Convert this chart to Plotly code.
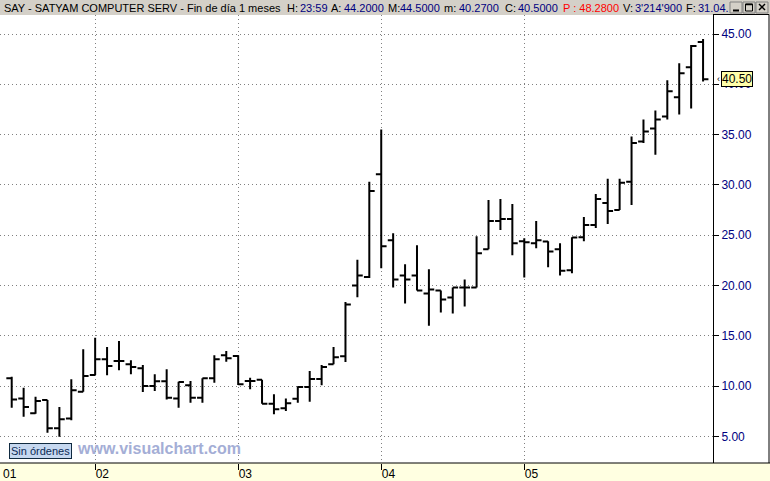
import plotly.graph_objects as go

# ---------------- data ----------------
months = [
    "2001-06", "2001-07", "2001-08", "2001-09", "2001-10", "2001-11", "2001-12",
    "2002-01", "2002-02", "2002-03", "2002-04", "2002-05", "2002-06",
    "2002-07", "2002-08", "2002-09", "2002-10", "2002-11", "2002-12",
    "2003-01", "2003-02", "2003-03", "2003-04", "2003-05", "2003-06",
    "2003-07", "2003-08", "2003-09", "2003-10", "2003-11", "2003-12",
    "2004-01", "2004-02", "2004-03", "2004-04", "2004-05", "2004-06",
    "2004-07", "2004-08", "2004-09", "2004-10", "2004-11", "2004-12",
    "2005-01", "2005-02", "2005-03", "2005-04", "2005-05", "2005-06",
    "2005-07", "2005-08", "2005-09", "2005-10", "2005-11", "2005-12",
    "2006-01", "2006-02", "2006-03", "2006-04",
]
opens = [
    10.77, 8.77, 7.28, 8.60, 5.79, 6.78, 9.44,
    11.09, 12.66, 12.49, 12.16, 11.76, 10.00,
    10.47, 8.77, 10.07, 8.84, 10.77, 13.05,
    12.99, 10.50, 10.63, 8.24, 7.78, 8.74,
    9.90, 10.70, 12.16, 12.96, 20.00, 20.85,
    31.05, 24.50, 21.00, 21.00, 19.20, 19.50,
    18.80, 19.80, 19.80, 23.60, 26.40, 26.60,
    24.40, 24.20, 24.36, 23.60, 21.50, 24.80,
    26.00, 28.20, 27.50, 30.30, 34.30, 35.60,
    36.80, 38.70, 41.70, 44.20,
]
highs = [
    10.93, 9.83, 8.94, 8.61, 7.91, 10.67, 13.65,
    14.81, 13.88, 14.48, 12.56, 12.09, 11.16,
    11.66, 10.43, 10.50, 10.77, 13.05, 13.48,
    13.05, 10.83, 10.63, 9.17, 8.77, 9.97,
    11.49, 12.09, 13.88, 18.35, 22.56, 30.30,
    35.50, 25.20, 22.10, 24.00, 21.60, 19.50,
    19.80, 20.60, 24.90, 28.50, 28.60, 28.10,
    24.70, 26.40, 24.40, 24.20, 24.80, 26.80,
    29.10, 30.60, 30.60, 34.80, 36.50, 37.40,
    40.40, 42.10, 43.90, 44.50,
]
lows = [
    7.84, 6.95, 7.25, 5.35, 4.96, 6.59, 9.44,
    11.09, 11.06, 11.56, 11.16, 9.40, 9.50,
    8.67, 7.84, 8.34, 8.34, 10.33, 12.42,
    10.10, 9.67, 8.24, 7.18, 7.51, 8.34,
    8.44, 10.07, 12.16, 12.39, 18.83, 20.75,
    21.70, 19.80, 18.20, 19.50, 16.00, 17.30,
    17.20, 17.90, 19.80, 23.60, 25.50, 23.00,
    20.80, 23.70, 21.80, 21.00, 21.20, 24.40,
    25.70, 26.10, 27.50, 28.00, 34.15, 33.00,
    36.50, 37.00, 37.60, 40.27,
]
closes = [
    8.67, 7.91, 8.51, 5.79, 6.69, 9.57, 11.00,
    12.66, 11.99, 12.49, 11.89, 10.00, 10.47,
    8.84, 10.40, 8.84, 10.77, 12.66, 12.76,
    10.17, 10.50, 8.24, 7.68, 8.28, 9.90,
    10.70, 11.89, 12.86, 18.10, 21.00, 29.40,
    23.90, 20.60, 20.60, 19.50, 19.60, 18.60,
    19.80, 19.80, 23.20, 26.40, 26.60, 24.20,
    24.30, 24.50, 23.37, 21.45, 24.76, 26.00,
    28.60, 27.40, 30.20, 34.15, 35.30, 36.50,
    39.30, 41.10, 43.80, 40.50,
]
y_tick_values = [5, 10, 15, 20, 25, 30, 35, 40, 45]
y_tick_labels = ["5.00", "10.00", "15.00", "20.00", "25.00", "30.00", "35.00", "40.00", "45.00"]
x_tick_months = ["2002-01", "2003-01", "2004-01", "2005-01"]
x_tick_labels = ["02", "03", "04", "05"]
first_year_label = "01"
last_close_label = "40.50"
last_close_value = 40.50

header_parts = [
    ("SAY - SATYAM COMPUTER SERV - Fin de día 1 meses", "black"),
    ("H:", "black"), ("23:59", "navy"),
    ("A:", "black"), ("44.2000", "navy"),
    ("M:", "black"), ("44.5000", "navy"),
    ("m:", "black"), ("40.2700", "navy"),
    ("C:", "black"), ("40.5000", "navy"),
    ("P : 48.2800", "red"),
    ("V:", "black"), ("3'214'900", "navy"),
    ("F:", "black"), ("31.04.", "navy"),
]
header_x = [2, 285, 298, 329, 342, 386, 398, 442, 457, 503, 516, 561, 621, 633, 684, 696]

# ---------------- layout geometry ----------------
W, H = 770, 481
ML, MR, MT, MB = 0, 57, 15, 18
PW, PH = W - ML - MR, H - MT - MB          # 713 x 448

def px(x):   # pixel x -> paper
    return (x - ML) / PW

def py(y):   # pixel y -> paper
    return (H - MB - y) / PH

x = list(range(len(months)))
tickvals = [months.index(m) for m in x_tick_months]

FONT = "Liberation Sans, Arial, sans-serif"
NAVY = "#000080"
colmap = {"black": "#000000", "navy": NAVY, "red": "#FF0000"}

fig = go.Figure()
fig.add_trace(go.Ohlc(
    x=x, open=opens, high=highs, low=lows, close=closes,
    increasing=dict(line=dict(color="black", width=2)),
    decreasing=dict(line=dict(color="black", width=2)),
    tickwidth=0.45, hoverinfo="skip", showlegend=False,
))

shapes = [
    dict(type="rect", xref="paper", yref="paper", x0=px(0), x1=px(W), y0=py(15), y1=py(0),
         fillcolor="#D4D0C8", line=dict(width=0), layer="below"),
    dict(type="rect", xref="paper", yref="paper", x0=px(0), x1=px(W), y0=py(H), y1=py(463),
         fillcolor="#FFFFE1", line=dict(width=0), layer="below"),
    dict(type="line", xref="paper", yref="paper", x0=px(0), x1=px(W), y0=0, y1=0,
         line=dict(color="black", width=1)),
    dict(type="line", xref="paper", yref="paper", x0=px(713), x1=px(769), y0=py(14.5), y1=py(14.5),
         line=dict(color="black", width=1)),
    dict(type="line", xref="paper", yref="paper", x0=px(769), x1=px(769), y0=py(14.5), y1=0,
         line=dict(color="black", width=1)),
]
for bx0, bx1 in [(730, 742), (743, 755), (756, 768)]:
    shapes.append(dict(type="rect", xref="paper", yref="paper", x0=px(bx0), x1=px(bx1),
                       y0=py(13), y1=py(2), fillcolor="#D4D0C8",
                       line=dict(color="#808080", width=1)))
shapes += [
    dict(type="line", xref="paper", yref="paper", x0=px(733), x1=px(739), y0=py(10.5), y1=py(10.5),
         line=dict(color="black", width=2)),
    dict(type="rect", xref="paper", yref="paper", x0=px(745.5), x1=px(752.5), y0=py(11), y1=py(4),
         line=dict(color="black", width=1)),
    dict(type="line", xref="paper", yref="paper", x0=px(745.5), x1=px(752.5), y0=py(4.5), y1=py(4.5),
         line=dict(color="black", width=1.5)),
    dict(type="line", xref="paper", yref="paper", x0=px(759), x1=px(765), y0=py(4), y1=py(10),
         line=dict(color="black", width=1.5)),
    dict(type="line", xref="paper", yref="paper", x0=px(765), x1=px(759), y0=py(4), y1=py(10),
         line=dict(color="black", width=1.5)),
]

annotations = []
for (txt, c), hx in zip(header_parts, header_x):
    annotations.append(dict(text=txt, xref="paper", yref="paper", x=px(hx), y=py(7.5),
                            xanchor="left", yanchor="middle", showarrow=False,
                            font=dict(family=FONT, size=11, color=colmap[c])))
annotations += [
    dict(text=first_year_label, xref="paper", yref="paper", x=px(1), y=py(474),
         xanchor="left", yanchor="middle", showarrow=False,
         font=dict(family=FONT, size=12, color="black")),
    dict(text="<b>www.visualchart.com</b>", xref="paper", yref="paper", x=px(75), y=py(448),
         xanchor="left", yanchor="middle", showarrow=False,
         font=dict(family=FONT, size=16, color="#A4AED6")),
    dict(text="Sin órdenes", xref="paper", yref="paper", x=px(9), y=py(450.5),
         xanchor="left", yanchor="middle", showarrow=False,
         font=dict(family=FONT, size=11, color="#0A2A55"),
         bgcolor="#C6D8F0", bordercolor="#102A40", borderwidth=1, borderpad=1),
    dict(text=last_close_label, xref="paper", yref="y", x=px(720.5), y=last_close_value,
         xanchor="left", yanchor="middle", showarrow=False,
         font=dict(family=FONT, size=12, color="black"),
         bgcolor="#FFFFAA", bordercolor="black", borderwidth=1, borderpad=0),
    dict(text="‹", xref="paper", yref="y", x=px(715), y=last_close_value,
         xanchor="left", yanchor="middle", showarrow=False,
         font=dict(family=FONT, size=9, color="black")),
]

fig.update_layout(
    width=W, height=H,
    margin=dict(l=ML, r=MR, t=MT, b=MB, pad=0),
    paper_bgcolor="white", plot_bgcolor="white",
    showlegend=False,
    shapes=shapes, annotations=annotations,
    xaxis=dict(
        range=[-0.982, 58.833], rangeslider=dict(visible=False),
        tickmode="array", tickvals=tickvals, ticktext=x_tick_labels,
        ticks="outside", ticklen=6, tickcolor="black", tickwidth=1,
        ticklabelposition="outside right",
        tickfont=dict(family=FONT, size=12, color="black"),
        showgrid=True, gridcolor="#808080", gridwidth=1, griddash="1px,3px",
        showline=False, zeroline=False, fixedrange=True, automargin=False,
    ),
    yaxis=dict(
        side="right", range=[2.345, 46.889],
        tickmode="array", tickvals=y_tick_values, ticktext=y_tick_labels,
        ticks="outside", ticklen=5, tickcolor="black", tickwidth=1,
        tickfont=dict(family=FONT, size=12, color=NAVY),
        showgrid=True, gridcolor="#808080", gridwidth=1, griddash="1px,3px",
        showline=True, linecolor="black", linewidth=1,
        zeroline=False, fixedrange=True, automargin=False,
    ),
)

fig.write_html(
    "out.html",
    config={"displayModeBar": False},
    post_script="document.body.style.margin='0';document.body.style.overflow='hidden';",
)
